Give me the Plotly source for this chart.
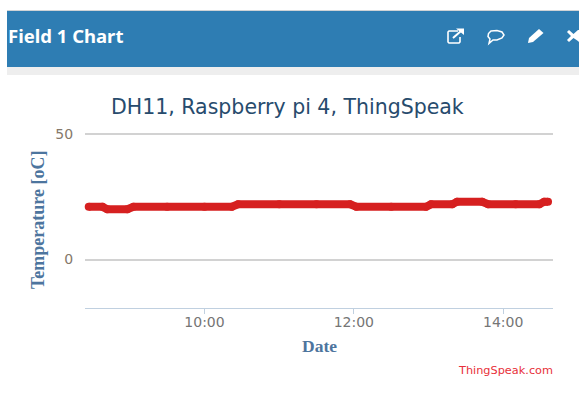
import plotly.graph_objects as go

W, H = 579, 417

times = ["2021-01-01 08:27", "2021-01-01 08:38", "2021-01-01 08:42", "2021-01-01 08:58", "2021-01-01 09:03",
         "2021-01-01 09:30", "2021-01-01 10:00", "2021-01-01 10:22", "2021-01-01 10:27", "2021-01-01 11:00",
         "2021-01-01 11:30", "2021-01-01 11:57", "2021-01-01 12:02", "2021-01-01 12:30", "2021-01-01 12:58",
         "2021-01-01 13:02", "2021-01-01 13:19", "2021-01-01 13:23", "2021-01-01 13:43", "2021-01-01 13:48",
         "2021-01-01 14:10", "2021-01-01 14:29", "2021-01-01 14:33", "2021-01-01 14:36"]
temps = [21, 21, 20, 20, 21, 21, 21, 21, 22, 22, 22, 22, 21, 21, 21, 22, 22, 23, 23, 22, 22, 22, 23, 23]
title_text = "DH11, Raspberry pi 4, ThingSpeak"
header_text = "Field 1 Chart"
y_label = "Temperature [oC]"
x_label = "Date"
credit = "ThingSpeak.com"
x_ticks = ["2021-01-01 10:00", "2021-01-01 12:00", "2021-01-01 14:00"]
x_tick_labels = ["10:00", "12:00", "14:00"]
y_ticks = [0, 50]


def px(x):
    return x / W


def py(y):
    return 1 - y / H


def rect(x0, y0, x1, y1, color):
    return dict(type="rect", xref="paper", yref="paper", x0=px(x0), x1=px(x1), y0=py(y0), y1=py(y1),
                fillcolor=color, line=dict(width=0), layer="below")


def path(points, closed=False, fill=None, stroke=None, width=1.5):
    d = "M" + " L".join(f"{px(a):.5f},{py(b):.5f}" for a, b in points) + (" Z" if closed else "")
    return dict(type="path", xref="paper", yref="paper", path=d,
                fillcolor=fill if fill else "rgba(0,0,0,0)",
                line=dict(color=stroke if stroke else "rgba(0,0,0,0)", width=width if stroke else 0))


shapes = [
    rect(7, 10, W, 11, "#cfd3d6"),
    rect(7, 11, W, 67, "#2e7db3"),
    rect(7, 67, W, 75, "#eeeeee"),
    path([(458, 31), (449, 31), (448, 32), (448, 42), (449, 43), (459, 43), (460, 42), (460, 37)], stroke="white", width=1.6),
    path([(453, 38), (461, 31)], stroke="white", width=2),
    path([(456, 28.5), (464, 28.5), (464, 35)], closed=True, fill="white"),
    path([(491, 31), (497, 30.5), (502, 32), (504, 35), (502, 38), (497, 40), (493, 40), (489, 43.5),
          (490, 39), (488, 36.5), (488.5, 33.5)], closed=True, stroke="white", width=1.5),
    path([(539, 29), (543.5, 33), (533, 42), (528, 43), (529, 38)], closed=True, fill="white"),
    path([(569, 30), (573.5, 34), (578, 30), (579, 30), (579, 42), (578, 41), (573.5, 38), (569, 42),
          (567, 40), (571, 36), (567, 32)], closed=True, fill="white"),
]

fig = go.Figure(go.Scatter(
    x=times, y=temps, mode="lines+markers",
    line=dict(color="#d62020", width=8),
    marker=dict(color="#d62020", size=8),
    hoverinfo="skip", cliponaxis=False,
))

fig.update_layout(
    width=W, height=H, margin=dict(l=0, r=0, t=0, b=0, autoexpand=False),
    paper_bgcolor="white", plot_bgcolor="white", showlegend=False,
    shapes=shapes,
    xaxis=dict(domain=[px(85), px(553)], range=["2021-01-01 08:24", "2021-01-01 14:40"],
               tickvals=x_ticks, ticktext=x_tick_labels, ticks="outside", ticklen=5, tickwidth=1, tickcolor="#c0d0e0",
               ticklabelstandoff=-4,
               showgrid=False, zeroline=False, showline=True, linecolor="#c0d0e0", linewidth=1,
               tickfont=dict(family="DejaVu Sans", size=14, color="#757575")),
    yaxis=dict(domain=[py(308), py(134) + 0.005], range=[-19.3, 50 + 0.005 * H / 2.51],
               tickvals=y_ticks, ticks="outside", ticklen=8, tickcolor="rgba(0,0,0,0)",
               showgrid=True, gridcolor="#d2d2d2", gridwidth=1.5,
               zeroline=False, showline=False,
               tickfont=dict(family="DejaVu Sans", size=14, color="#85786a")),
    annotations=[
        dict(text=title_text, xref="paper", yref="paper", x=px(287), y=py(107), showarrow=False,
             font=dict(family="DejaVu Sans", size=20.5, color="#274b6d"), xanchor="center", yanchor="middle"),
        dict(text=header_text, xref="paper", yref="paper", x=px(6), y=py(35), showarrow=False,
             font=dict(family="Noto Sans", size=18.5, color="white", weight="bold"), xanchor="left", yanchor="middle"),
        dict(text=y_label, xref="paper", yref="paper", x=px(38), y=py(220), showarrow=False, textangle=-90,
             font=dict(family="Liberation Serif", size=18, color="#4d759e", weight="bold"), xanchor="center", yanchor="middle"),
        dict(text=x_label, xref="paper", yref="paper", x=px(319), y=py(346), showarrow=False,
             font=dict(family="Liberation Serif", size=17.5, color="#4d759e", weight="bold"), xanchor="center", yanchor="middle"),
        dict(text=credit, xref="paper", yref="paper", x=px(555), y=py(370), showarrow=False,
             font=dict(family="DejaVu Sans", size=11.3, color="#e8303a"), xanchor="right", yanchor="middle"),
    ],
)

fig.write_html("out.html", config={"displayModeBar": False},
               post_script="document.body.style.margin='0';")
